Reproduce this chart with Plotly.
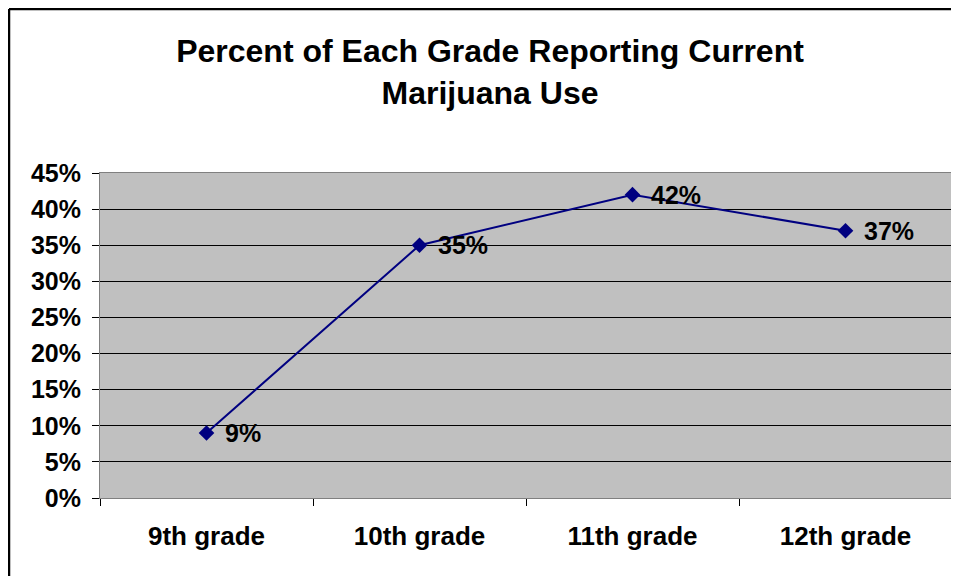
import plotly.graph_objects as go

grades = ["9th grade", "10th grade", "11th grade", "12th grade"]
percent_use = [0.09, 0.35, 0.42, 0.37]
data_labels = ["9%", "35%", "42%", "37%"]
title_lines = ["Percent of Each Grade Reporting Current", "Marijuana Use"]

# page has an 8px body margin, so the figure is sized to fit 959x576
W, H = 951, 568
ML, MR, MT, MB = 92, 7, 165, 78
pw, ph = W - ML - MR, H - MT - MB

FONT = "Arial, Liberation Sans, sans-serif"
NAVY = "#000080"

fig = go.Figure()
fig.add_trace(go.Scatter(
    x=grades, y=percent_use,
    mode="lines+markers",
    line=dict(color=NAVY, width=2),
    marker=dict(symbol="diamond", size=12, color=NAVY),
    cliponaxis=False,
    hoverinfo="skip",
))

annotations = [
    dict(x=g, y=v, xref="x", yref="y", text=t, showarrow=False,
         xanchor="left", yanchor="middle", xshift=16, yshift=0,
         font=dict(family=FONT, size=25, color="black", weight="bold"))
    for g, v, t in zip(grades, percent_use, data_labels)
]

def px_to_paper_x(px):
    return (px - ML) / pw

def px_to_paper_y(py):
    return (H - MB - py) / ph

fig.update_layout(
    width=W, height=H,
    margin=dict(l=ML, r=MR, t=MT, b=MB, autoexpand=False),
    paper_bgcolor="white",
    plot_bgcolor="#C0C0C0",
    showlegend=False,
    annotations=annotations,
    title=dict(
        text="<br>".join(title_lines),
        font=dict(family=FONT, size=32, color="black", weight="bold"),
        x=482 / W, xanchor="center", xref="container",
        y=1 - 54 / H, yanchor="middle", yref="container",
    ),
    xaxis=dict(
        type="category",
        range=[-0.5, 3.5],
        showgrid=False,
        showline=True, linecolor="#808080", linewidth=1, mirror=True,
        ticks="outside", tickson="boundaries", ticklen=7, tickcolor="black",
        tickfont=dict(family=FONT, size=26, color="black", weight="bold"),
        ticklabelstandoff=15,
        fixedrange=True,
    ),
    yaxis=dict(
        range=[0, 0.45],
        dtick=0.05,
        tickformat=".0%",
        showgrid=True, gridcolor="black", gridwidth=1,
        zeroline=True, zerolinecolor="black", zerolinewidth=1,
        showline=True, linecolor="#808080", linewidth=1, mirror=True,
        ticks="outside", ticklen=7, tickcolor="black",
        tickfont=dict(family=FONT, size=25, color="black", weight="bold"),
        ticklabelstandoff=6,
        fixedrange=True,
    ),
    shapes=[
        dict(type="line", xref="paper", yref="paper",
             x0=px_to_paper_x(1), x1=px_to_paper_x(W + 5),
             y0=px_to_paper_y(1), y1=px_to_paper_y(1),
             line=dict(color="black", width=2.5), layer="above"),
        dict(type="line", xref="paper", yref="paper",
             x0=px_to_paper_x(1), x1=px_to_paper_x(1),
             y0=px_to_paper_y(1), y1=px_to_paper_y(H + 5),
             line=dict(color="black", width=2.5), layer="above"),
    ],
)

fig.write_html("out.html", config={"displayModeBar": False})
